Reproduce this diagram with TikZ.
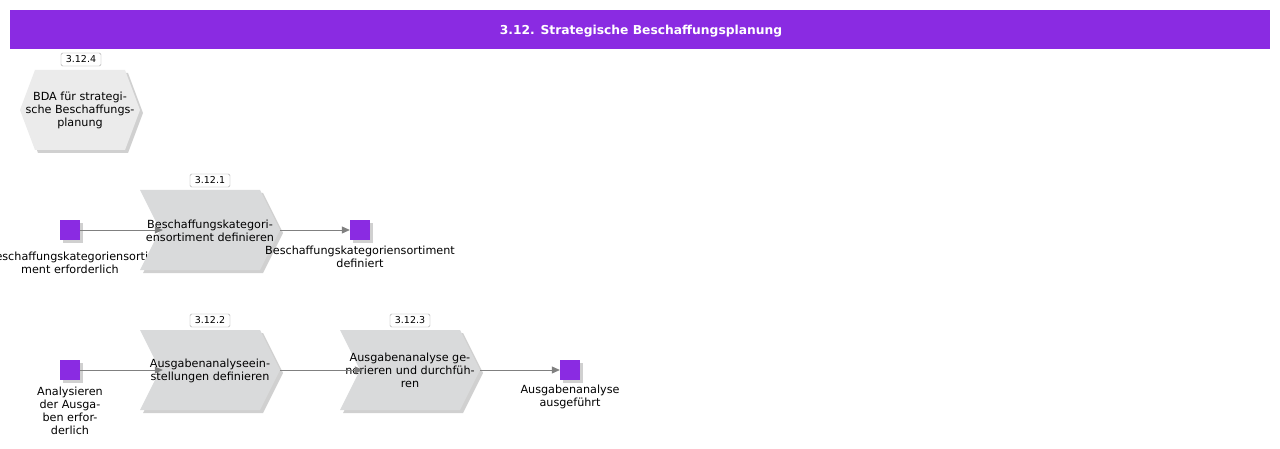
\documentclass[tikz,border=0pt]{standalone}
\usepackage{fontspec}
\setmainfont{DejaVu Sans}
\usetikzlibrary{shadows,arrows.meta}
\definecolor{hdr}{HTML}{8A2BE2}
\definecolor{chevf}{HTML}{D9DADB}
\definecolor{hexf}{HTML}{EBEBEB}
\definecolor{connc}{HTML}{808080}
\newcommand{\chevshape}[2]{\fill[chevf, shp] (#1-70,#2-40) -- (#1+50,#2-40) -- (#1+70,#2) -- (#1+50,#2+40) -- (#1-70,#2+40) -- (#1-50,#2) -- cycle;}
\begin{document}
\begin{tikzpicture}[x=1pt,y=-1pt,
 txt/.style={font=\fontsize{11.2}{13}\selectfont, align=center, inner sep=0pt},
 idbox/.style={draw=gray!70, fill=white, rounded corners=1.5pt, font=\fontsize{9.5}{10}\selectfont, minimum width=40pt, minimum height=13pt, inner sep=1pt},
 shp/.style={drop shadow={shadow xshift=3pt, shadow yshift=-3pt, opacity=0.3, fill=black!60}},
 evt/.style={fill=hdr, minimum size=20pt, inner sep=0pt, shp},
 actbox/.style={minimum width=140pt, minimum height=80pt, inner sep=0pt},
 connector/.style={draw=connc, line width=0.8pt, -{Triangle[length=8pt,width=7pt]}},
]
\useasboundingbox (0,0) rectangle (1280,449);
\fill[white] (0,0) rectangle (1280,449);
\node[fill=hdr, minimum width=1260pt, minimum height=39pt, inner sep=0pt] (title) at (640,29.5) {};
\node[text=white, inner sep=0pt, font=\bfseries\fontsize{12.3}{14}\selectfont] (titletext) at (641,31) {3.12. Strategische Beschaffungsplanung};

% hexagon
\fill[hexf, shp] (20,110) -- (35,70) -- (125,70) -- (140,110) -- (125,150) -- (35,150) -- cycle;
\node[txt] (hex) at (80,110) {BDA für strategi-\\sche Beschaffungs-\\planung};
\node[idbox] (id4) at (81,59.5) {3.12.4};

% row 1
\node[evt] (e1) at (70,230) {};
\node[txt] (e1l) at (70,262.5) {Beschaffungskategoriensorti-\\ment erforderlich};
\chevshape{210}{230}
\node[actbox] (c1) at (210,230) {};
\node[idbox] (id1) at (210,180.5) {3.12.1};
\node[evt] (e2) at (360,230) {};
\node[txt] (c1t) at (210,230.5) {Beschaffungskategori-\\ensortiment definieren};
\node[txt] (e2l) at (360,256.5) {Beschaffungskategoriensortiment\\definiert};
\draw[connector] (e1.east) -- ([xshift=23pt]c1.west);
\draw[connector] (c1.east) -- (e2.west);

% row 2
\node[evt] (e3) at (70,370) {};
\node[txt] (e3l) at (70,411) {Analysieren\\der Ausga-\\ben erfor-\\derlich};
\chevshape{210}{370}
\node[actbox] (c2) at (210,370) {};
\node[idbox] (id2) at (210,320.5) {3.12.2};
\chevshape{410}{370}
\node[actbox] (c3) at (410,370) {};
\node[idbox] (id3) at (410,320.5) {3.12.3};
\node[evt] (e4) at (570,370) {};
\node[txt] (c2t) at (210,370.5) {Ausgabenanalyseein-\\stellungen definieren};
\node[txt] (c3t) at (410,370) {Ausgabenanalyse ge-\\nerieren und durchfüh-\\ren};
\node[txt] (e4l) at (570,396.5) {Ausgabenanalyse\\ausgeführt};
\draw[connector] (e3.east) -- ([xshift=23pt]c2.west);
\draw[connector] (c2.east) -- ([xshift=23pt]c3.west);
\draw[connector] (c3.east) -- (e4.west);
\end{tikzpicture}
\end{document}
